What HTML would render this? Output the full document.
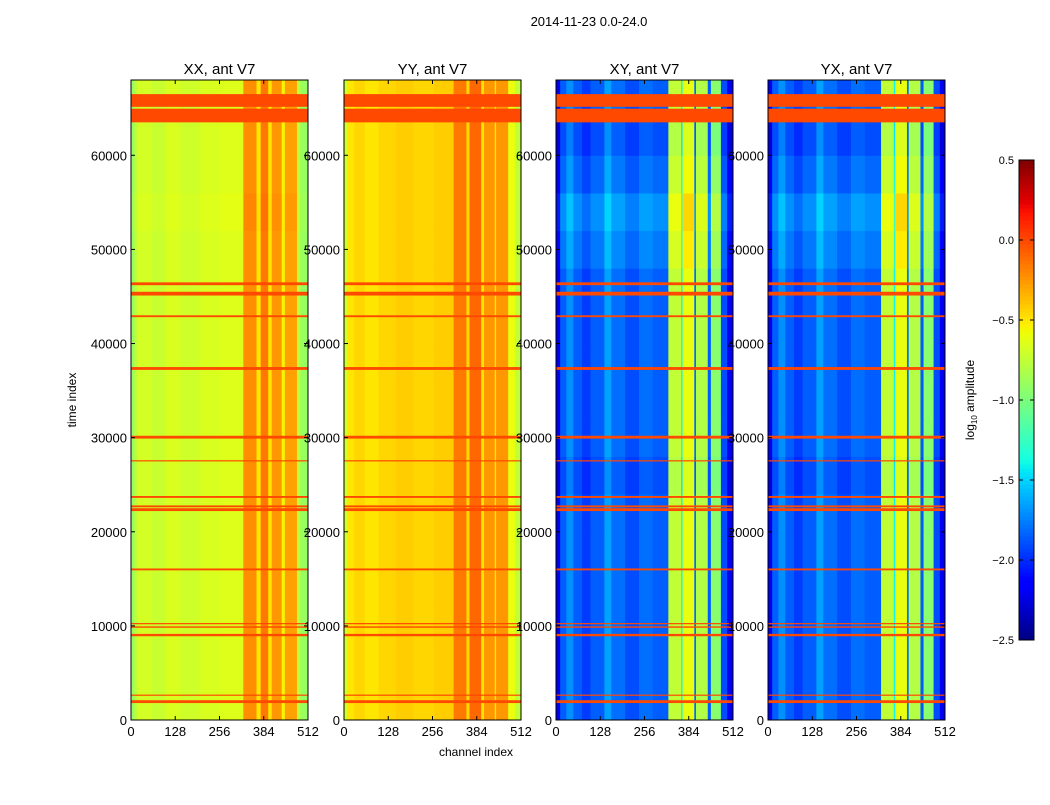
<!DOCTYPE html>
<html><head><meta charset="utf-8">
<style>
body{margin:0;background:#fff;}
svg text{font-family:"Liberation Sans",sans-serif;fill:#000;}
</style></head>
<body>
<svg id="fig" width="1050" height="800" viewBox="0 0 1050 800" xmlns="http://www.w3.org/2000/svg">
<rect width="1050" height="800" fill="#fff"/>
<text x="589" y="26" font-size="13" text-anchor="middle">2014-11-23 0.0-24.0</text>
<text x="476" y="756" font-size="12" text-anchor="middle">channel index</text>
<text transform="translate(76,400) rotate(-90)" font-size="12" text-anchor="middle">time index</text>
<g id="panels"></g>
<g id="cbar"></g>
</svg>
<script>
const panelNames=["XX, ant V7","YY, ant V7","XY, ant V7","YX, ant V7"];
const panelLeft=[131,344,556,768];
const edgesXX=[0,10,20,60,100,140,200,260,325,363,375,397,407,436,445,480,490];
const valsXX=[-0.9,-0.75,-0.68,-0.72,-0.66,-0.7,-0.66,-0.64,-0.22,-0.5,-0.15,-0.5,-0.25,-0.55,-0.28,-0.75,-0.9];
const edgesYY=[0,10,30,60,100,150,200,260,317,354,363,397,405,436,440,475,495];
const valsYY=[-0.7,-0.5,-0.45,-0.5,-0.45,-0.42,-0.45,-0.42,-0.15,-0.45,-0.1,-0.5,-0.25,-0.5,-0.25,-0.6,-0.75];
const edgesXY=[0,12,30,50,75,100,140,160,200,240,280,325,362,366,400,405,439,448,477,495];
const valsXY=[-2.2,-1.85,-1.7,-1.85,-1.95,-1.85,-1.65,-1.8,-1.9,-1.8,-1.85,-0.75,-1.4,-0.6,-1.8,-0.8,-1.85,-0.95,-1.9,-2.2];
const edgesYX=[0,12,30,50,75,100,140,160,200,240,280,327,364,368,402,407,441,450,479,497];
const valsYX=[-2.2,-1.85,-1.7,-1.85,-1.95,-1.85,-1.65,-1.8,-1.9,-1.8,-1.85,-0.75,-1.4,-0.6,-1.8,-0.8,-1.85,-0.95,-1.9,-2.2];
const edges=[edgesXX,edgesYY,edgesXY,edgesYX];
const vals=[valsXX,valsYY,valsXY,valsYX];
const rowOffXX=[0,0,0,0,0,0,0,0,0,0,0,0,0,0.02,0,0,0];
const rowOffYY=[0,0,0,0,0,0,0,0,0,0,0,0,0,0,0,0,0];
const rowOffXY=[0,0,0,0,0,0,-0.05,0,0,0,0,0,0.08,0.15,0.03,-0.05,0];
const rowOffYX=[0,0,0,0,0,0,-0.05,0,0,0,0,0,0.08,0.15,0.03,-0.05,0];
const rowOffs=[rowOffXX,rowOffYY,rowOffXY,rowOffYX];
const flagStart=[63500,65150,46200,45100,42800,37200,29900,27500,23600,22600,22200,15900,10200,9800,8900,2600,1800];
const flagEnd=[64950,66500,46500,45500,43000,37500,30200,27600,23800,22800,22500,16100,10300,9950,9150,2700,2100];
const yTicks=[0,10000,20000,30000,40000,50000,60000];
const xTicks=[0,128,256,384,512];
const cbTicks=[0.5,0.0,-0.5,-1.0,-1.5,-2.0,-2.5];
const cbLabels=["0.5","0.0","\u22120.5","\u22121.0","\u22121.5","\u22122.0","\u22122.5"];
const flagValue=0.0;
const vmin=-2.5,vmax=0.5,tMax=68000,nCh=512;
const plotTop=80,plotBot=720,pw=177;
function ys(t){return plotBot-(t/tMax)*(plotBot-plotTop);}
function interp(t,pts){for(let i=1;i<pts.length;i++){if(t<=pts[i][0]){const a=pts[i-1],b=pts[i];return a[1]+(b[1]-a[1])*(t-a[0])/(b[0]-a[0]);}}return pts[pts.length-1][1];}
const jr=[[0,0],[0.35,0],[0.66,1],[0.89,1],[1,0.5]];
const jg=[[0,0],[0.125,0],[0.375,1],[0.64,1],[0.91,0],[1,0]];
const jb=[[0,0.5],[0.11,1],[0.34,1],[0.65,0],[1,0]];
function jet(v){const t=Math.max(0,Math.min(1,(v-vmin)/(vmax-vmin)));
 const c=x=>Math.round(255*x);
 return `rgb(${c(interp(t,jr))},${c(interp(t,jg))},${c(interp(t,jb))})`;}
const NS="http://www.w3.org/2000/svg";
function mk(tag,attrs,parent){const e=document.createElementNS(NS,tag);for(const k in attrs)e.setAttribute(k,attrs[k]);parent.appendChild(e);return e;}
const G=document.getElementById("panels");
panelNames.forEach((nm,p)=>{
 const x0=panelLeft[p];const xs=c=>x0+c/nCh*pw;
 const g=mk("g",{},G);
 
 
 const ed=edges[p],vv=vals[p],ro=rowOffs[p];
 ro.forEach((off,r)=>{
  const t0=r*4000,t1=Math.min(tMax,(r+1)*4000);
  vv.forEach((v,b)=>{
   const c0=ed[b],c1=b+1<ed.length?ed[b+1]:nCh;
   const rc=mk("rect",{x:xs(c0),y:ys(t1),width:xs(c1)-xs(c0)+0.5,height:ys(t0)-ys(t1)+0.5,fill:jet(v+off)},g);
   
   
  });
 });
 flagStart.forEach((s,i)=>{
  const rc=mk("rect",{x:x0,y:ys(flagEnd[i]),width:pw,height:Math.max(1.2,ys(s)-ys(flagEnd[i])),fill:jet(flagValue)},g);
  
  
 });
 const fr=mk("rect",{x:x0,y:plotTop,width:pw,height:plotBot-plotTop,fill:"none",stroke:"#000","stroke-width":1},g);
 
 
 const tt=mk("text",{x:x0+pw/2,y:74,"font-size":15,"text-anchor":"middle"},g);tt.textContent=nm;
 
 
 yTicks.forEach(t=>{
  mk("line",{x1:x0,x2:x0+4,y1:ys(t),y2:ys(t),stroke:"#000"},g);
  mk("line",{x1:x0+pw,x2:x0+pw-4,y1:ys(t),y2:ys(t),stroke:"#000"},g);
  const l=mk("text",{x:x0-4,y:ys(t)+5,"font-size":13,"text-anchor":"end"},g);l.textContent=t;
  
  
 });
 xTicks.forEach(c=>{
  mk("line",{x1:xs(c),x2:xs(c),y1:plotBot,y2:plotBot-4,stroke:"#000"},g);
  mk("line",{x1:xs(c),x2:xs(c),y1:plotTop,y2:plotTop+4,stroke:"#000"},g);
  const l=mk("text",{x:xs(c),y:plotBot+16,"font-size":13,"text-anchor":"middle"},g);l.textContent=c;
  
  
 });
});
const C=document.getElementById("cbar");
const cx=1019,cw=15,cTop=160,cBot=640;
const cy=v=>cBot-(v-vmin)/(vmax-vmin)*(cBot-cTop);
for(let i=0;i<120;i++){const v0=vmin+i*(vmax-vmin)/120,v1=vmin+(i+1)*(vmax-vmin)/120;
 const r=mk("rect",{x:cx,y:cy(v1),width:cw,height:cy(v0)-cy(v1)+0.5,fill:jet((v0+v1)/2)},C);
 
 }
const cf=mk("rect",{x:cx,y:cTop,width:cw,height:cBot-cTop,fill:"none",stroke:"#000"},C);


cbTicks.forEach((v,i)=>{
 mk("line",{x1:cx,x2:cx+4,y1:cy(v),y2:cy(v),stroke:"#000"},C);
 mk("line",{x1:cx+cw-4,x2:cx+cw,y1:cy(v),y2:cy(v),stroke:"#000"},C);
 const l=mk("text",{x:cx-5,y:cy(v)+4,"font-size":11,"text-anchor":"end"},C);l.textContent=cbLabels[i];
 
 
});
const cl=mk("text",{transform:"translate(974,400) rotate(-90)","font-size":12,"text-anchor":"middle"},C);


cl.appendChild(document.createTextNode("log"));
const sub=mk("tspan",{"font-size":8,dy:3},cl);sub.textContent="10";
const rest=mk("tspan",{dy:-3},cl);rest.textContent=" amplitude";
</script>
</body></html>
